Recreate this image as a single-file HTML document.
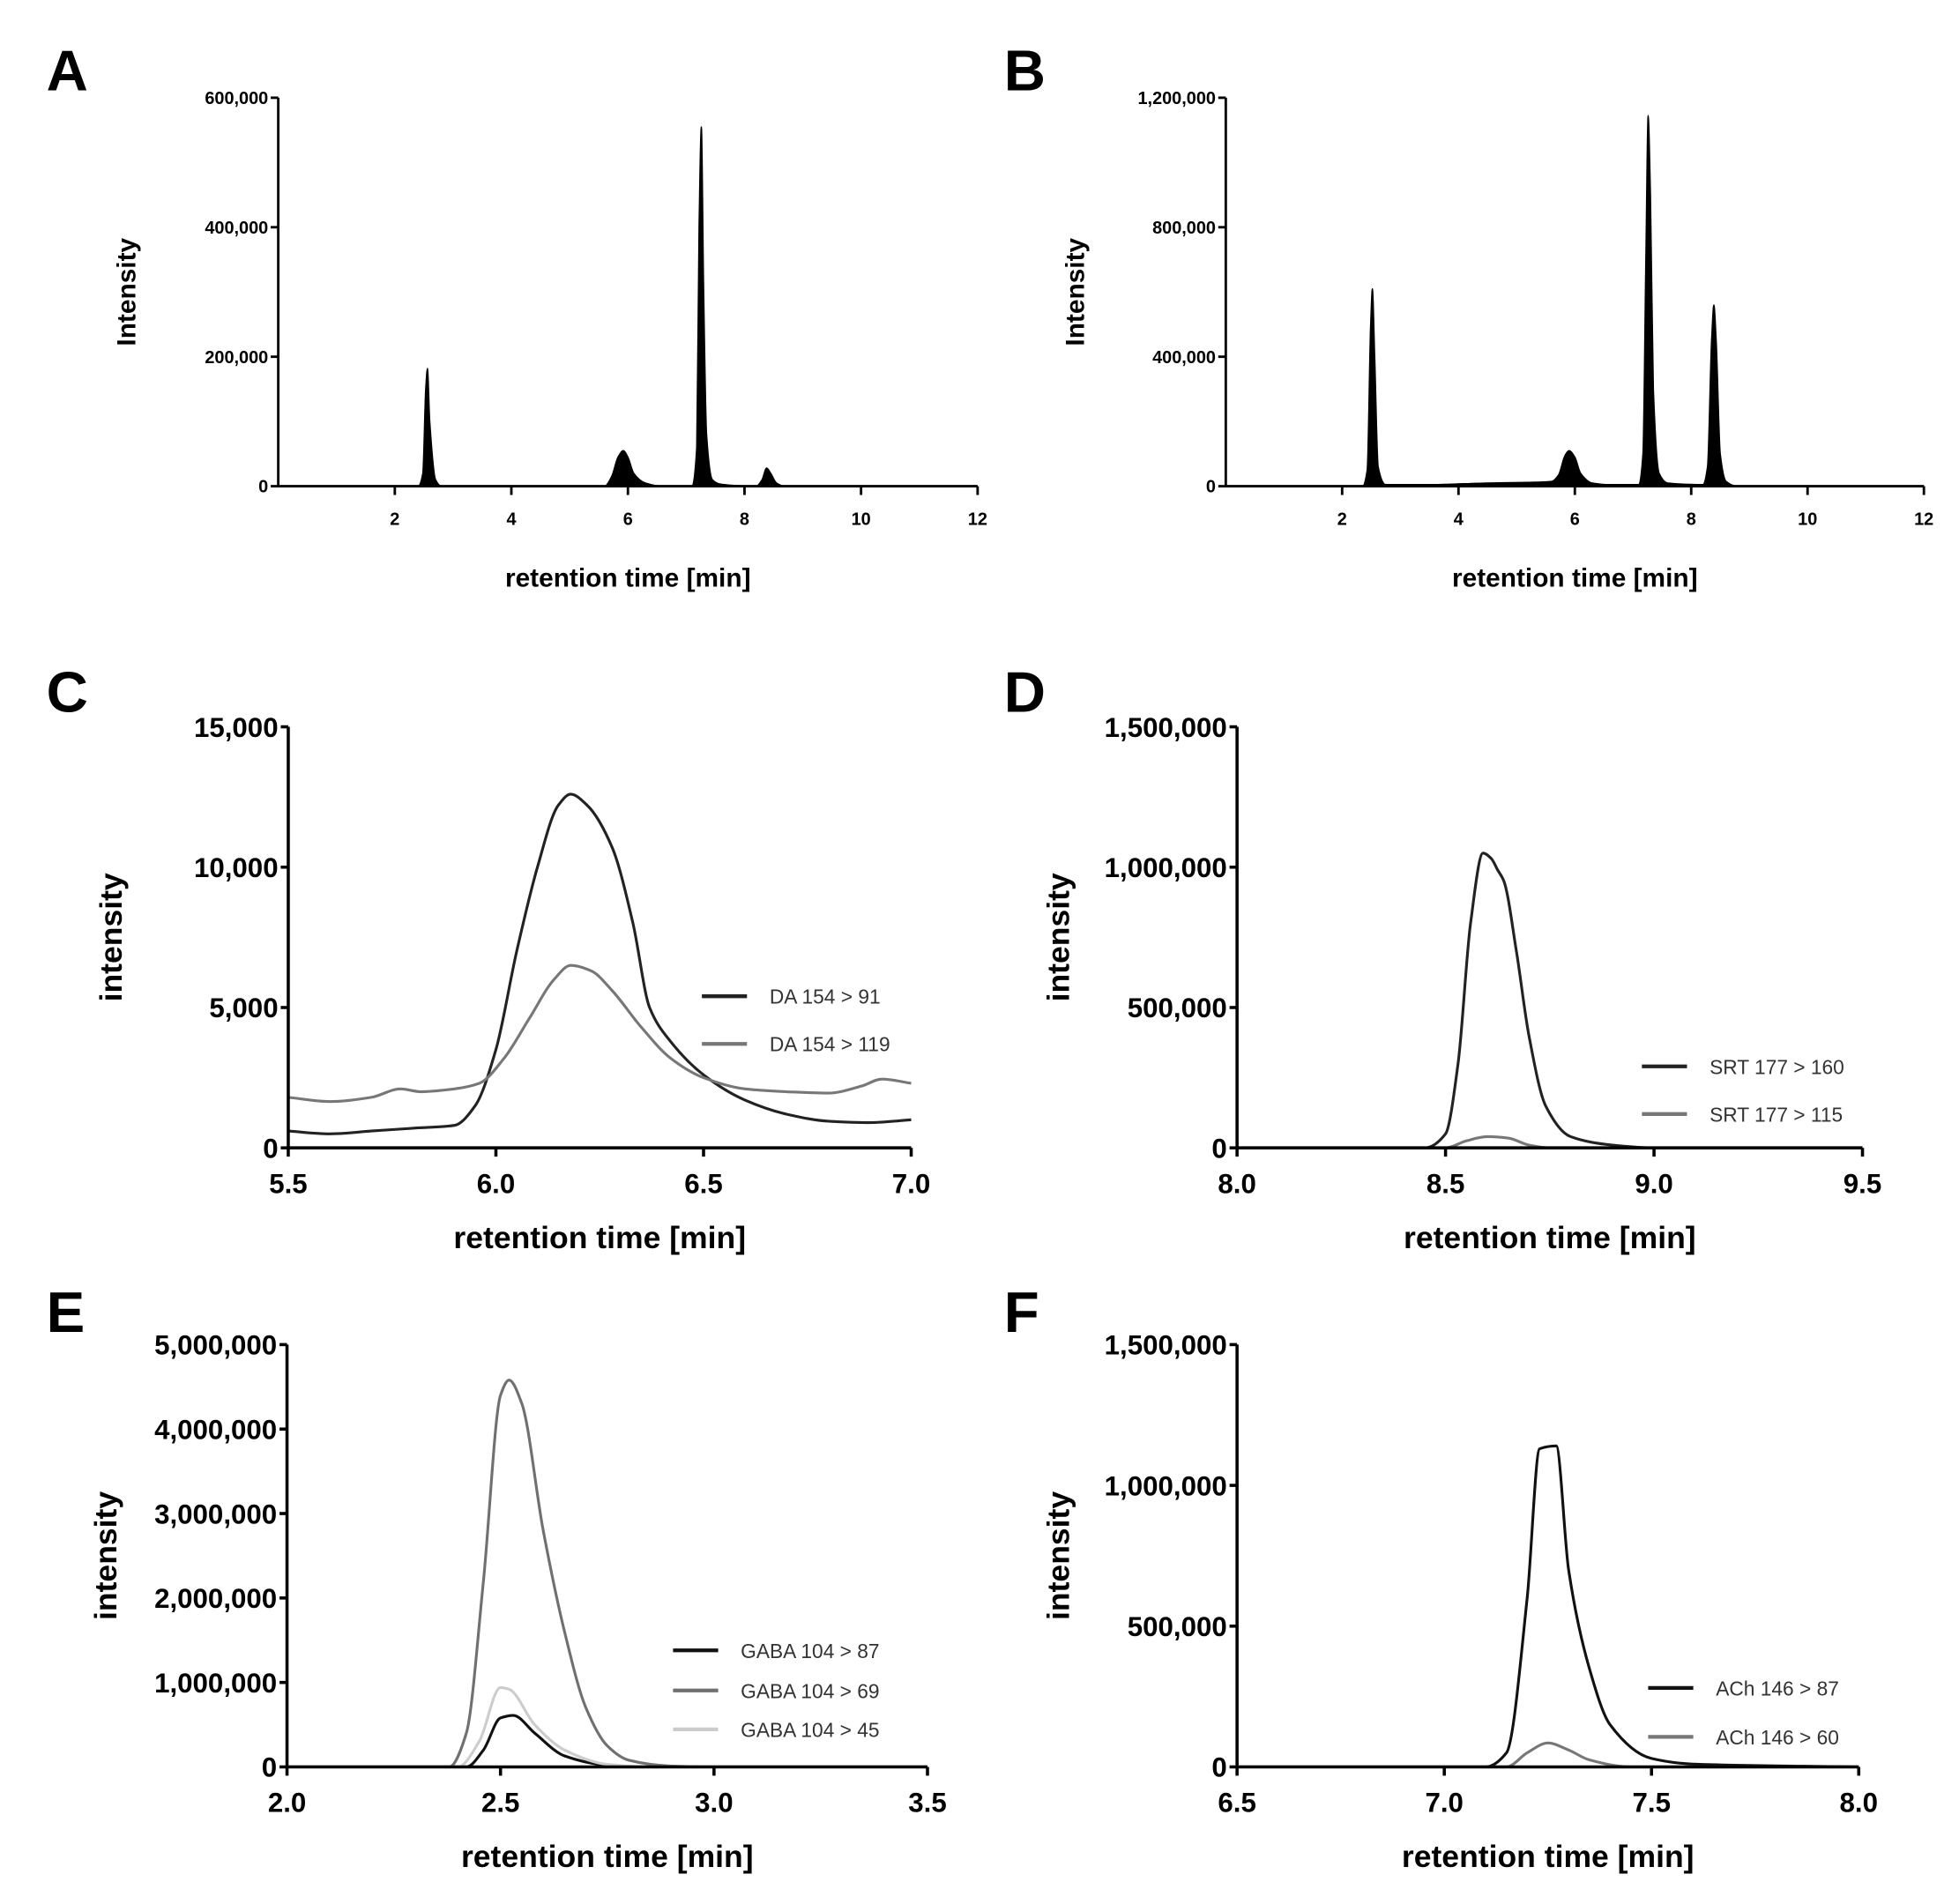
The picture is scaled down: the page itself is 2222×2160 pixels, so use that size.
<!DOCTYPE html>
<html><head><meta charset="utf-8"><style>
html,body{margin:0;padding:0;background:#fff;}
svg{display:block;font-family:"Liberation Sans",Arial,sans-serif;}
</style></head><body>
<svg id="fig" width="2222" height="2160" viewBox="0 0 1563 1519.4" preserveAspectRatio="none" xmlns="http://www.w3.org/2000/svg"></svg>
<script>
// ---- data ----
const aX=[0,2.4,2.48,2.53,2.56,2.6,2.7,2.8,5.6,5.72,5.83,5.92,6.0,6.1,6.3,6.6,7.1,7.18,7.22,7.26,7.3,7.35,7.45,7.6,8.2,8.3,8.38,8.45,8.55,8.7,12];
const aY=[0,0,20000,150000,182000,100000,10000,0,0,15000,45000,55000,45000,20000,5000,0,0,60000,400000,555000,300000,80000,10000,3000,0,10000,28000,20000,5000,0,0];
const bX=[0,2.35,2.43,2.49,2.52,2.56,2.62,2.75,3.5,4.5,5.2,5.6,5.72,5.83,5.9,6.0,6.1,6.3,6.6,7.1,7.17,7.22,7.26,7.3,7.35,7.45,7.6,8.2,8.28,8.35,8.39,8.43,8.5,8.6,8.8,12];
const bY=[0,0,50000,500000,610000,400000,60000,5000,5000,10000,12000,15000,35000,95000,110000,90000,40000,10000,5000,5000,100000,700000,1145000,900000,300000,40000,10000,5000,60000,450000,560000,450000,100000,15000,0,0];
const cX=[5.5,5.6,5.7,5.8,5.9,5.95,6.0,6.05,6.1,6.15,6.18,6.22,6.28,6.33,6.37,6.42,6.5,6.6,6.7,6.8,6.9,7.0];
const cY1=[600,500,600,700,800,1500,3500,7000,10000,12200,12600,12200,10700,8000,5000,3800,2600,1700,1200,950,900,1000];
const cX2=[5.5,5.6,5.7,5.77,5.82,5.9,5.96,6.02,6.08,6.14,6.18,6.23,6.28,6.35,6.42,6.5,6.6,6.7,6.8,6.88,6.93,7.0];
const cY2=[1800,1650,1800,2100,2000,2100,2300,3200,4600,6000,6500,6300,5600,4300,3200,2500,2100,2000,1950,2200,2450,2300];
const dX1=[8.0,8.45,8.5,8.53,8.56,8.59,8.61,8.625,8.64,8.67,8.7,8.74,8.8,8.9,9.0,9.5];
const dY1=[0,0,50000,300000,800000,1050000,1030000,990000,950000,700000,400000,150000,40000,10000,0,0];
const dX2=[8.0,8.5,8.55,8.6,8.65,8.7,8.75,9.5];
const dY2=[0,0,25000,40000,35000,10000,0,0];
const eX69=[2.0,2.38,2.42,2.46,2.5,2.52,2.55,2.6,2.65,2.7,2.75,2.8,2.9,3.0,3.5];
const eY69=[0,0,400000,2200000,4400000,4580000,4300000,2800000,1600000,700000,250000,80000,10000,0,0];
const eX45=[2.0,2.4,2.45,2.5,2.52,2.58,2.65,2.75,2.85,3.5];
const eY45=[0,0,300000,940000,920000,500000,200000,30000,0,0];
const eX87=[2.0,2.42,2.46,2.5,2.53,2.58,2.65,2.75,2.85,3.5];
const eY87=[0,0,200000,580000,610000,400000,130000,20000,0,0];
const fX1=[6.5,7.1,7.15,7.2,7.23,7.27,7.3,7.35,7.4,7.5,7.6,8.0];
const fY1=[0,0,50000,600000,1130000,1140000,700000,350000,150000,30000,10000,0];
const fX2=[6.5,7.15,7.2,7.25,7.3,7.35,7.45,8.0];
const fY2=[0,0,50000,85000,60000,25000,0,0];
const aTicksX=[2,4,6,8,10,12], aTicksY=[0,200000,400000,600000];
const bTicksY=[0,400000,800000,1200000];
const cTicksX=[5.5,6.0,6.5,7.0], cTicksY=[0,5000,10000,15000];
const dTicksX=[8.0,8.5,9.0,9.5], dTicksY=[0,500000,1000000,1500000];
const eTicksX=[2.0,2.5,3.0,3.5], eTicksY=[0,1000000,2000000,3000000,4000000,5000000];
const fTicksX=[6.5,7.0,7.5,8.0];

const svg=document.getElementById('fig');
const NS='http://www.w3.org/2000/svg';
function el(tag,attrs,parent){const e=document.createElementNS(NS,tag);for(const k in attrs)e.setAttribute(k,attrs[k]);(parent||svg).appendChild(e);return e;}
function txt(s,attrs,parent){const t=el('text',attrs,parent);t.textContent=s;return t;}
function fmt(v,dec){return dec?v.toFixed(1):v.toLocaleString('en-US');}
// monotone cubic (Fritsch-Carlson) — no overshoot
function smooth(pts){
  const n=pts.length,dx=[],m=[],t=[];
  for(let i=0;i<n-1;i++){dx[i]=pts[i+1][0]-pts[i][0];m[i]=(pts[i+1][1]-pts[i][1])/dx[i];}
  t[0]=m[0];t[n-1]=m[n-2];
  for(let i=1;i<n-1;i++){if(m[i-1]*m[i]<=0)t[i]=0;else{const w1=2*dx[i]+dx[i-1],w2=dx[i]+2*dx[i-1];t[i]=(w1+w2)/(w1/m[i-1]+w2/m[i]);}}
  let d='M'+pts[0][0]+','+pts[0][1];
  for(let i=0;i<n-1;i++){const h=dx[i]/3;d+=` C${pts[i][0]+h},${pts[i][1]+t[i]*h} ${pts[i+1][0]-h},${pts[i+1][1]-t[i+1]*h} ${pts[i+1][0]},${pts[i+1][1]}`;}
  return d;
}

function panel(o){
  const g=el('g',{});
  
  
  const sx=v=>o.x0+(v-o.xmin)/(o.xmax-o.xmin)*(o.x1-o.x0);
  const sy=v=>o.y0-(v-o.ymin)/(o.ymax-o.ymin)*(o.y0-o.y1);
  const L=txt(o.letter,{x:o.lx,y:o.ly,'font-size':46,'font-weight':'bold'},g);
  
  
  const big=o.big;
  o.series.forEach((s,i)=>{
    const pts=s.x.map((x,j)=>[sx(x),sy(s.y[j])]);
    let d=smooth(pts);
    const p=el('path',{},g);
    if(s.fill){d+=` L${pts[pts.length-1][0]},${o.y0} L${pts[0][0]},${o.y0} Z`;p.setAttribute('fill','#000');p.setAttribute('stroke','#000');p.setAttribute('stroke-width',1);}
    else{p.setAttribute('fill','none');p.setAttribute('stroke',s.color);p.setAttribute('stroke-width',2.2);}
    p.setAttribute('d',d);
    
    
    if(s.name){
      const ly=o.legY[i];
      const ll=el('line',{x1:o.legX,x2:o.legX+36,y1:ly,y2:ly,stroke:s.color,'stroke-width':3},g);
      
      
      const lt=txt(s.name,{x:o.legX+54,y:ly+6,'font-size':16,fill:'#333'},g);
      
      
    }
  });
  const sw=big?2.5:2;
  el('line',{x1:o.x0,x2:o.x0,y1:o.y1,y2:o.y0+1,stroke:'#000','stroke-width':sw},g);
  el('line',{x1:o.x0-1,x2:o.x1,y1:o.y0,y2:o.y0,stroke:'#000','stroke-width':sw},g);
  const fs=big?22:14;
  o.ty.forEach(v=>{const y=sy(v);el('line',{x1:o.x0-6,x2:o.x0,y1:y,y2:y,stroke:'#000','stroke-width':sw},g);
    const t=txt(fmt(v),{x:o.x0-8,y:y+fs*0.36,'font-size':fs,'font-weight':'bold','text-anchor':'end'},g);
    });
  o.tx.forEach(v=>{const x=sx(v);el('line',{x1:x,x2:x,y1:o.y0,y2:o.y0+7,stroke:'#000','stroke-width':sw},g);
    const t=txt(fmt(v,o.dec),{x:x,y:o.y0+(big?36:31),'font-size':fs,'font-weight':'bold','text-anchor':'middle'},g);
    });
  const xt=txt('retention time [min]',{x:(o.x0+o.x1)/2,y:o.y0+80,'font-size':big?25:21,'font-weight':'bold','text-anchor':'middle'},g);
  
  const yt=txt(o.ytitle,{x:0,y:0,'font-size':big?25:21,'font-weight':'bold','text-anchor':'middle',transform:`translate(${o.ytx},${(o.y0+o.y1)/2}) rotate(-90)`},g);
  
}
panel({letter:'A',lx:37,ly:72,x0:222,x1:780,y0:388,y1:78,xmin:0,xmax:12,ymin:0,ymax:600000,tx:aTicksX,ty:aTicksY,ytitle:'Intensity',ytx:108,big:false,series:[{x:aX,y:aY,fill:true}]});
panel({letter:'B',lx:801,ly:72,x0:978,x1:1535,y0:388,y1:78,xmin:0,xmax:12,ymin:0,ymax:1200000,tx:aTicksX,ty:bTicksY,ytitle:'Intensity',ytx:865,big:false,series:[{x:bX,y:bY,fill:true}]});
panel({letter:'C',lx:37,ly:568,x0:230,x1:727,y0:916,y1:580,xmin:5.5,xmax:7.0,ymin:0,ymax:15000,tx:cTicksX,ty:cTicksY,dec:true,ytitle:'intensity',ytx:97,big:true,legX:560,legY:[795,833],
  series:[{x:cX,y:cY1,color:'#222',name:'DA 154 > 91'},{x:cX2,y:cY2,color:'#777',name:'DA 154 > 119'}]});
panel({letter:'D',lx:801,ly:568,x0:987,x1:1486,y0:916,y1:580,xmin:8.0,xmax:9.5,ymin:0,ymax:1500000,tx:dTicksX,ty:dTicksY,dec:true,ytitle:'intensity',ytx:853,big:true,legX:1310,legY:[851,889],
  series:[{x:dX1,y:dY1,color:'#222',name:'SRT 177 > 160'},{x:dX2,y:dY2,color:'#777',name:'SRT 177 > 115'}]});
panel({letter:'E',lx:37,ly:1063,x0:229,x1:740,y0:1410,y1:1073,xmin:2.0,xmax:3.5,ymin:0,ymax:5000000,tx:eTicksX,ty:eTicksY,dec:true,ytitle:'intensity',ytx:93,big:true,legX:537,legY:[1317,1349,1380],
  series:[{x:eX87,y:eY87,color:'#111',name:'GABA 104 > 87'},{x:eX69,y:eY69,color:'#707070',name:'GABA 104 > 69'},{x:eX45,y:eY45,color:'#ccc',name:'GABA 104 > 45'}]});
panel({letter:'F',lx:801,ly:1063,x0:987,x1:1483,y0:1410,y1:1073,xmin:6.5,xmax:8.0,ymin:0,ymax:1500000,tx:fTicksX,ty:dTicksY,dec:true,ytitle:'intensity',ytx:853,big:true,legX:1315,legY:[1347,1386],
  series:[{x:fX1,y:fY1,color:'#111',name:'ACh 146 > 87'},{x:fX2,y:fY2,color:'#777',name:'ACh 146 > 60'}]});
</script>
</body></html>
